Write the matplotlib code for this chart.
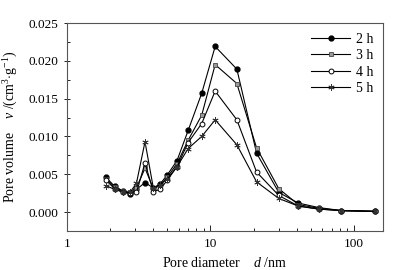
import matplotlib
matplotlib.use("Agg")
from matplotlib import pyplot as plt
from matplotlib.ticker import MultipleLocator, LogLocator, NullFormatter, FixedLocator, FixedFormatter

plt.rcParams['font.family'] = ['Liberation Serif', 'DejaVu Serif']
plt.rcParams['mathtext.fontset'] = 'custom'
plt.rcParams['mathtext.rm'] = 'Liberation Serif'
plt.rcParams['mathtext.it'] = 'Liberation Serif:italic'

# pore diameter, nm
d = [1.87, 2.15, 2.45, 2.75, 3.05, 3.5, 4.0, 4.45, 5.0, 5.85, 7.0, 8.7,
     10.8, 15.3, 21, 30, 41, 57, 82, 140]

v_2h = [0.0046, 0.0034, 0.0028, 0.0024, 0.0030, 0.0039, 0.0032, 0.0037, 0.0049, 0.0068,
        0.0108, 0.0157, 0.0219, 0.0189, 0.0078, 0.0026, 0.0012, 0.0006, 0.0002, 0.0001]
v_3h = [0.0044, 0.0033, 0.0028, 0.0026, 0.0032, 0.0058, 0.0031, 0.0035, 0.0046, 0.0064,
        0.0095, 0.0128, 0.0195, 0.0170, 0.0085, 0.0031, 0.0010, 0.0005, 0.0002, 0.0001]
v_4h = [0.0042, 0.0031, 0.0026, 0.0025, 0.0026, 0.0065, 0.0027, 0.0030, 0.0042, 0.0060,
        0.0092, 0.0117, 0.0160, 0.0122, 0.0053, 0.0022, 0.0008, 0.0004, 0.0002, 0.0001]
v_5h = [0.0035, 0.0030, 0.0027, 0.0026, 0.0038, 0.0093, 0.0032, 0.0036, 0.0044, 0.0060,
        0.0084, 0.0100, 0.0122, 0.0089, 0.0040, 0.0018, 0.0008, 0.0004, 0.0002, 0.0001]

labels = ["2 h", "3 h", "4 h", "5 h"]

fig = plt.figure(figsize=(4, 2.7), dpi=100)
ax = fig.add_axes([0.1675, 0.1444, 0.79, 0.7704])

ax.plot(d, v_2h, color='black', lw=0.8, marker='o', ms=3.5, mfc='black', mec='black', label=labels[0])
ax.plot(d, v_3h, color='black', lw=0.8, marker='s', ms=3, mfc='#999999', mec='#444444', mew=0.6, label=labels[1])
ax.plot(d, v_4h, color='black', lw=0.8, marker='o', ms=3.5, mfc='white', mec='black', mew=0.7, label=labels[2])
ax.plot(d, v_5h, color='black', lw=0.8, marker=(6, 2, 0), ms=4.5, mec='#333333', mew=0.6, label=labels[3])

ax.set_xscale('log')
ax.set_xlim(1, 160)
ax.set_ylim(-0.0025, 0.025)

ax.xaxis.set_major_locator(FixedLocator([1, 10, 100]))
ax.xaxis.set_major_formatter(FixedFormatter(['1', '10', '100']))
ax.xaxis.set_minor_locator(LogLocator(base=10, subs=range(2, 10)))
ax.xaxis.set_minor_formatter(NullFormatter())
ax.yaxis.set_major_locator(MultipleLocator(0.005))
ax.yaxis.set_minor_locator(MultipleLocator(0.0025))
ax.yaxis.set_major_formatter(plt.FuncFormatter(lambda y, p: "%.3f" % y))

ax.tick_params(axis='x', which='both', direction='in', labelsize=9.5, pad=5)
ax.tick_params(axis='x', which='major', length=4, width=0.6)
ax.tick_params(axis='x', which='minor', length=2.5, width=0.6)
ax.tick_params(axis='y', which='major', direction='inout', length=5, width=0.6, labelsize=9.5)
ax.tick_params(axis='y', which='minor', direction='in', length=2.5, width=0.6)
for s in ax.spines.values():
    s.set_linewidth(0.8)
    s.set_color('#555555')

ax.set_xlabel(r"Pore diameter    $\it{d}$ /nm", fontsize=10, labelpad=4)
ax.set_ylabel(r"Pore volume    $\it{v}$ /(cm$^{3}$$\cdot$g$^{-1}$)", fontsize=10, labelpad=6)

ax.legend(loc='upper right', frameon=False, fontsize=10, handlelength=2.8,
          labelspacing=0.25, handletextpad=0.4, borderaxespad=0.3)

fig.savefig("out.png", dpi=100)
